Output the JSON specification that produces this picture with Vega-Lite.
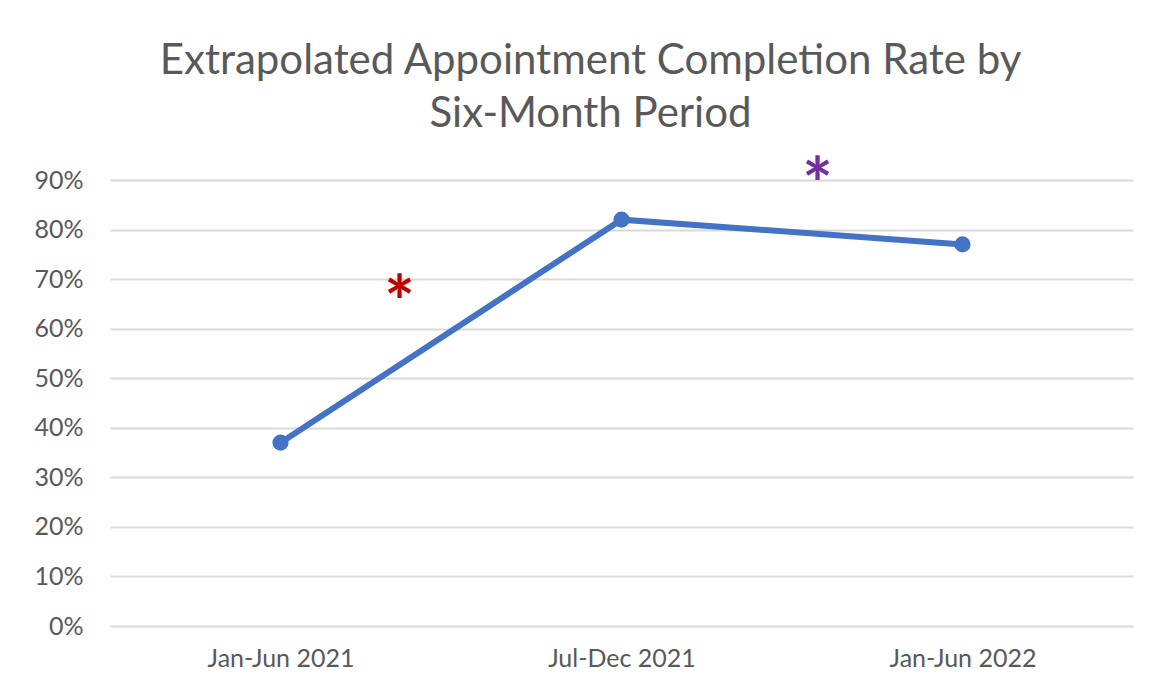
{
  "$schema": "https://vega.github.io/schema/vega-lite/v6.json",
  "autosize": "none",
  "width": 1023,
  "height": 446,
  "padding": {"left": 110, "top": 180, "right": 18, "bottom": 69},
  "background": "white",
  "config": {
    "view": {"stroke": null},
    "font": "Lato"
  },
  "title": {
    "text": ["Extrapolated Appointment Completion Rate by", "Six-Month Period"],
    "fontSize": 42,
    "font": "Lato",
    "fontWeight": "normal",
    "color": "#595959",
    "anchor": "middle",
    "dx": -31,
    "lineHeight": 53,
    "offset": 17
  },
  "datasets": {
    "rates": [
      {"idx": 0, "period": "Jan-Jun 2021", "rate": 0.37},
      {"idx": 1, "period": "Jul-Dec 2021", "rate": 0.82},
      {"idx": 2, "period": "Jan-Jun 2022", "rate": 0.77}
    ],
    "marks": [
      {"pos": 0.349, "level": 0.644, "sign": "*", "kind": "red"},
      {"pos": 1.575, "level": 0.882, "sign": "*", "kind": "purple"}
    ]
  },
  "layer": [
    {
      "data": {"name": "rates"},
      "mark": {"type": "line", "color": "#4472C4", "strokeWidth": 6, "point": {"size": 260, "filled": true, "color": "#4472C4", "opacity": 1}},
      "encoding": {
        "x": {
          "field": "idx", "type": "quantitative",
          "scale": {"domain": [-0.5, 2.5], "nice": false, "zero": false},
          "axis": {
            "values": [0, 1, 2],
            "labelExpr": "datum.value == 0 ? 'Jan-Jun 2021' : datum.value == 1 ? 'Jul-Dec 2021' : 'Jan-Jun 2022'",
            "title": null, "grid": false, "domain": false, "ticks": false,
            "labelFontSize": 25, "labelColor": "#595959", "labelPadding": 20, "labelFont": "Lato"
          }
        },
        "y": {
          "field": "rate", "type": "quantitative",
          "scale": {"domain": [0, 0.9], "nice": false},
          "axis": {
            "values": [0, 0.1, 0.2, 0.3, 0.4, 0.5, 0.6, 0.7, 0.8, 0.9],
            "format": ".0%", "title": null, "domain": false, "ticks": false,
            "gridColor": "#d9d9d9", "gridWidth": 2,
            "labelFontSize": 25, "labelColor": "#595959", "labelPadding": 27, "labelFont": "Lato"
          }
        }
      }
    },
    {
      "data": {"name": "marks"},
      "mark": {"type": "text", "fontSize": 72, "fontWeight": "bold", "baseline": "middle", "align": "center", "clip": false, "font": "Lato"},
      "encoding": {
        "x": {"field": "pos", "type": "quantitative"},
        "y": {"field": "level", "type": "quantitative"},
        "text": {"field": "sign"},
        "color": {
          "field": "kind", "type": "nominal",
          "scale": {"domain": ["red", "purple"], "range": ["#C00000", "#7030A0"]},
          "legend": null
        }
      }
    }
  ]
}
